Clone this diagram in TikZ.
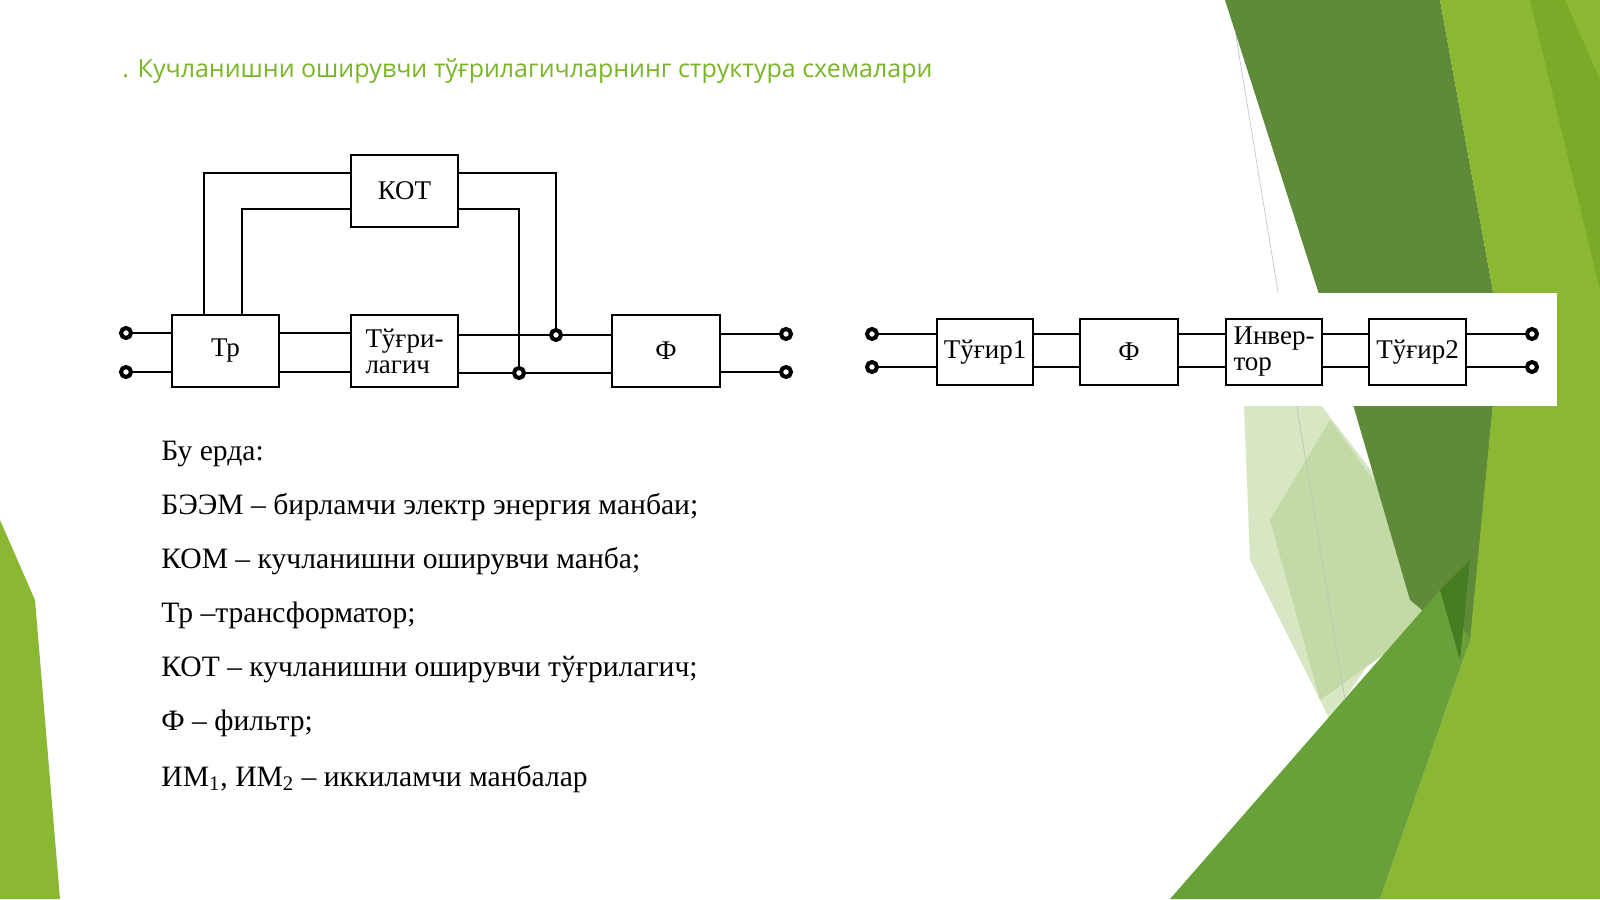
\documentclass[tikz,border=0pt]{standalone}
\usepackage{fontspec}
\setmainfont{Liberation Serif}
\newfontfamily\titlefont{Open Sans}
\definecolor{titlegreen}{RGB}{122,181,38}
\definecolor{gA}{RGB}{196,218,166}
\definecolor{gB}{RGB}{94,138,58}
\definecolor{gC}{RGB}{138,184,51}
\definecolor{gD}{RGB}{122,170,40}
\definecolor{gE}{RGB}{104,160,58}
\definecolor{gF}{RGB}{70,125,35}
\definecolor{gG}{RGB}{215,230,195}
\begin{document}
\begin{tikzpicture}[x=0.5pt,y=-0.5pt,
  blk/.style={draw,line width=0.8pt,fill=white,inner sep=0pt,font=\fontsize{13.5}{13}\selectfont},
  wire/.style={line width=0.8pt},
  term/.style={circle,draw,line width=2pt,fill=white,inner sep=0pt,minimum size=5pt},
  jn/.style={circle,draw,line width=2pt,fill=white,inner sep=0pt,minimum size=5pt},
  lst/.style={anchor=base west,inner sep=0pt,font=\fontsize{14.8}{15}\selectfont}]
\useasboundingbox (0,0) rectangle (1600,899);
\fill[white] (0,0) rectangle (1600,899);
% background shapes
\fill[gG] (1240,300) -- (1440,560) -- (1330,720) -- (1250,560) -- cycle;
\fill[gA] (1330,420) -- (1460,600) -- (1320,700) -- (1270,520) -- cycle;
\fill[gB] (1225,0) -- (1440,0) -- (1500,330) -- (1470,650) -- (1410,600) -- (1340,360) -- cycle;
\fill[gC] (1440,0) -- (1600,0) -- (1600,899) -- (1380,899) -- (1470,640) -- (1500,330) -- cycle;
\fill[gD] (1530,0) -- (1565,0) -- (1600,80) -- (1600,290) -- cycle;
\fill[gE] (1170,899) -- (1440,590) -- (1470,640) -- (1380,899) -- cycle;
\fill[gF] (1440,590) -- (1470,560) -- (1460,660) -- cycle;
\fill[gC] (0,520) -- (35,600) -- (60,899) -- (0,899) -- cycle;
\draw[gray!50,line width=0.3pt] (1235,30) -- (1345,700);
% title
\node[anchor=base west,inner sep=0pt,text=titlegreen,font=\titlefont\fontsize{12.5}{13}\selectfont] (title) at (122,78) {. Кучланишни оширувчи тўғрилагичларнинг структура схемалари};
% left diagram
\node[blk,minimum width=53.5pt,minimum height=36pt] (tr) at (225.5,351) {Тр};
\node[blk,minimum width=53.5pt,minimum height=36pt,align=left] (tg) at (404.5,351) {Тўғри-\\лагич};
\node[blk,minimum width=53.5pt,minimum height=36pt] (kot) at (404.5,191) {КОТ};
\node[blk,minimum width=54pt,minimum height=36pt] (f) at (666,351) {Ф};
\node[term] (i1) at (126,333) {}; \node[term] (i2) at (126,372) {};
\node[term] (o1) at (786,334) {}; \node[term] (o2) at (786,372) {};
\node[jn] (j1) at (556,335) {}; \node[jn] (j2) at (519,373) {};
\draw[wire] (i1) -- (i1-|tr.west); \draw[wire] (i2) -- (i2-|tr.west);
\draw[wire] (tr.east|-i1) -- (tg.west|-i1); \draw[wire] (tr.east|-i2) -- (tg.west|-i2);
\draw[wire] (tg.east|-j1) -- (j1) -- (f.west|-j1);
\draw[wire] (tg.east|-j2) -- (j2) -- (f.west|-j2);
\draw[wire] (f.east|-o1) -- (o1); \draw[wire] (f.east|-o2) -- (o2);
\coordinate (a1) at (204,173); \coordinate (a2) at (242,209);
\coordinate (b1) at (556,173); \coordinate (b2) at (519,209);
\draw[wire] (kot.west|-a1) -- (a1) -- (a1|-tr.north);
\draw[wire] (kot.west|-a2) -- (a2) -- (a2|-tr.north);
\draw[wire] (kot.east|-b1) -- (b1) -- (j1);
\draw[wire] (kot.east|-b2) -- (b2) -- (j2);
% right diagram
\fill[white] (850,293) rectangle (1557,406);
\node[blk,minimum width=48pt,minimum height=33pt] (t1) at (985,352) {Тўғир1};
\node[blk,minimum width=49pt,minimum height=33pt] (f2) at (1129,352) {Ф};
\node[blk,minimum width=48pt,minimum height=33pt,align=left] (inv) at (1274,352) {Инвер-\\тор};
\node[blk,minimum width=48.5pt,minimum height=33pt] (t2) at (1417.5,352) {Тўғир2};
\node[term] (r1) at (872,334) {}; \node[term] (r2) at (872,367) {};
\node[term] (s1) at (1532,334) {}; \node[term] (s2) at (1532,367) {};
\draw[wire] (r1) -- (r1-|t1.west); \draw[wire] (r2) -- (r2-|t1.west);
\foreach \p/\q in {t1/f2,f2/inv,inv/t2}{
  \draw[wire] (\p.east|-r1) -- (\q.west|-r1);
  \draw[wire] (\p.east|-r2) -- (\q.west|-r2);}
\draw[wire] (t2.east|-s1) -- (s1); \draw[wire] (t2.east|-s2) -- (s2);
% list
\node[lst] (l1) at (161,460) {Бу ерда:};
\node[lst] (l2) at (161,514) {БЭЭМ – бирламчи электр энергия манбаи;};
\node[lst] (l3) at (161,568) {КОМ – кучланишни оширувчи манба;};
\node[lst] (l4) at (161,622) {Тр –трансформатор;};
\node[lst] (l5) at (161,676) {КОТ – кучланишни оширувчи тўғрилагич;};
\node[lst] (l6) at (161,730) {Ф – фильтр;};
\node[lst] (l7) at (161,786) {ИМ\textsubscript{1}, ИМ\textsubscript{2} – иккиламчи манбалар};
\end{tikzpicture}
\end{document}
